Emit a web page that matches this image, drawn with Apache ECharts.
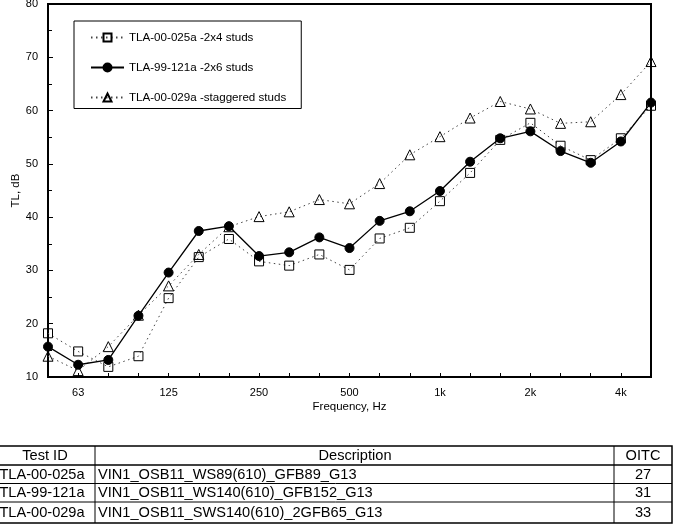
<!DOCTYPE html>
<html>
<head>
<meta charset="utf-8">
<script src="https://cdn.jsdelivr.net/npm/echarts@6/dist/echarts.min.js"></script>
<style>html,body{margin:0;padding:0;background:#fff}#c{width:674px;height:527px}</style>
</head>
<body>
<div id="c"></div>
<script>
var frequencies = ['50','63','80','100','125','160','200','250','315','400','500','630','800','1000','1250','1600','2000','2500','3150','4000','5000'];
var shownTickLabels = {'63':'63','125':'125','250':'250','500':'500','1000':'1k','2000':'2k','4000':'4k'};
var seriesNames = ['TLA-00-025a -2x4 studs','TLA-99-121a -2x6 studs','TLA-00-029a -staggered studs'];
var tla00025a = [18.2,14.8,11.9,13.9,24.8,32.5,35.9,31.7,30.9,33.0,30.1,36.0,38.0,43.0,48.3,54.5,57.7,53.4,50.7,54.8,60.9];
var tla99121a = [15.7,12.3,13.2,21.5,29.6,37.4,38.3,32.7,33.4,36.2,34.2,39.3,41.1,44.9,50.4,54.8,56.1,52.4,50.2,54.2,61.5];
var tla00029a = [13.9,11.2,15.7,21.6,27.1,33.0,38.2,40.1,41.0,43.3,42.5,46.3,51.7,55.1,58.6,61.7,60.3,57.6,57.9,63.0,69.2];
var tableHeader = ['Test ID','Description','OITC'];
var testIds = ['TLA-00-025a','TLA-99-121a','TLA-00-029a'];
var descriptions = ['VIN1_OSB11_WS89(610)_GFB89_G13','VIN1_OSB11_WS140(610)_GFB152_G13','VIN1_OSB11_SWS140(610)_2GFB65_G13'];
var oitcValues = ['27','31','33'];

var FONT = 'Liberation Sans, Arial, Helvetica, sans-serif';
var chart = echarts.init(document.getElementById('c'), null, {renderer:'canvas'});

// table graphics
var rowLines = [446, 465, 483.5, 502, 523];
var colX = [-5, 95, 614, 672];
var g = [];
g.push({type:'rect', shape:{x:colX[0], y:rowLines[0], width:colX[3]-colX[0], height:rowLines[4]-rowLines[0]}, style:{fill:'none', stroke:'#000', lineWidth:1.5}});
for (var i = 1; i < rowLines.length-1; i++) {
  g.push({type:'line', shape:{x1:colX[0], y1:rowLines[i], x2:colX[3], y2:rowLines[i]}, style:{stroke:'#000', lineWidth: i===1?1.5:1}});
}
for (var j = 1; j < colX.length-1; j++) {
  g.push({type:'line', shape:{x1:colX[j], y1:rowLines[0], x2:colX[j], y2:rowLines[4]}, style:{stroke:'#000', lineWidth:1}});
}
function cellText(txt, x, y, align) {
  return {type:'text', x:x, y:y, style:{text:txt, font:'14.6px '+FONT, fill:'#000', align:align, verticalAlign:'middle'}};
}
var rowCenters = [456, 474.5, 493, 512.5];
g.push(cellText(tableHeader[0], 45, rowCenters[0], 'center'));
g.push(cellText(tableHeader[1], 355, rowCenters[0], 'center'));
g.push(cellText(tableHeader[2], 643, rowCenters[0], 'center'));
for (var r = 0; r < testIds.length; r++) {
  g.push(cellText(testIds[r], 42, rowCenters[r+1], 'center'));
  g.push(cellText(descriptions[r], 98, rowCenters[r+1], 'left'));
  g.push(cellText(oitcValues[r], 643, rowCenters[r+1], 'center'));
}

var dotted = [1.5, 3.5];
var option = {
  animation: false,
  backgroundColor: '#fff',
  textStyle: {fontFamily: FONT},
  grid: {left: 48, right: 23, top: 4, bottom: 150, containLabel: false, outerBoundsMode: 'none',
    show: true, borderColor: '#000', borderWidth: 2, backgroundColor: 'transparent'},
  legend: {
    orient: 'vertical', left: 74, top: 21,
    padding: [10.5, 15, 5, 16],
    itemGap: 18, itemWidth: 33, itemHeight: 10,
    borderColor: '#000', borderWidth: 1, backgroundColor: '#fff',
    textStyle: {fontSize: 11.6, color: '#000', fontFamily: FONT},
    data: seriesNames
  },
  xAxis: {
    type: 'category', data: frequencies, boundaryGap: false,
    name: 'Frequency, Hz', nameLocation: 'middle', nameGap: 24, nameMoveOverlap: false,
    nameTextStyle: {fontSize: 11.5, color: '#000', fontFamily: FONT},
    axisLine: {lineStyle: {color: '#000', width: 2}},
    axisTick: {show: true, inside: true, length: 4, interval: 0, lineStyle: {color: '#000', width: 1}},
    axisLabel: {
      interval: function(idx, val){ return shownTickLabels.hasOwnProperty(val); },
      formatter: function(val){ return shownTickLabels[val] || ''; },
      fontSize: 11, color: '#000', margin: 10, fontFamily: FONT
    },
    splitLine: {show: false}
  },
  yAxis: {
    type: 'value', min: 10, max: 80, interval: 10,
    name: 'TL, dB', nameLocation: 'middle', nameGap: 26, nameRotate: 90, nameMoveOverlap: false,
    nameTextStyle: {fontSize: 11.5, color: '#000', fontFamily: FONT},
    axisLine: {show: true, lineStyle: {color: '#000', width: 2}},
    axisTick: {show: true, inside: true, length: 5, lineStyle: {color: '#000', width: 1}},
    minorTick: {show: true, splitNumber: 2, length: 4, lineStyle: {color: '#000', width: 1}},
    axisLabel: {fontSize: 11, color: '#000', margin: 10, fontFamily: FONT},
    splitLine: {show: false}
  },
  series: [
    {name: seriesNames[0], type: 'line', data: tla00025a, symbol: 'rect', symbolSize: 9,
      lineStyle: {color: '#444', width: 1, type: dotted},
      itemStyle: {color: 'rgba(255,255,255,0)', borderColor: '#000', borderWidth: 1}, z: 3},
    {name: seriesNames[1], type: 'line', data: tla99121a, symbol: 'circle', symbolSize: 9,
      lineStyle: {color: '#000', width: 1.3, type: 'solid'},
      itemStyle: {color: '#000', borderColor: '#000', borderWidth: 1}, z: 5},
    {name: seriesNames[2], type: 'line', data: tla00029a, symbol: 'triangle', symbolSize: 10,
      lineStyle: {color: '#444', width: 1, type: dotted},
      itemStyle: {color: 'rgba(255,255,255,0)', borderColor: '#000', borderWidth: 1}, z: 4}
  ],
  graphic: g
};
chart.setOption(option);
</script>
</body>
</html>
